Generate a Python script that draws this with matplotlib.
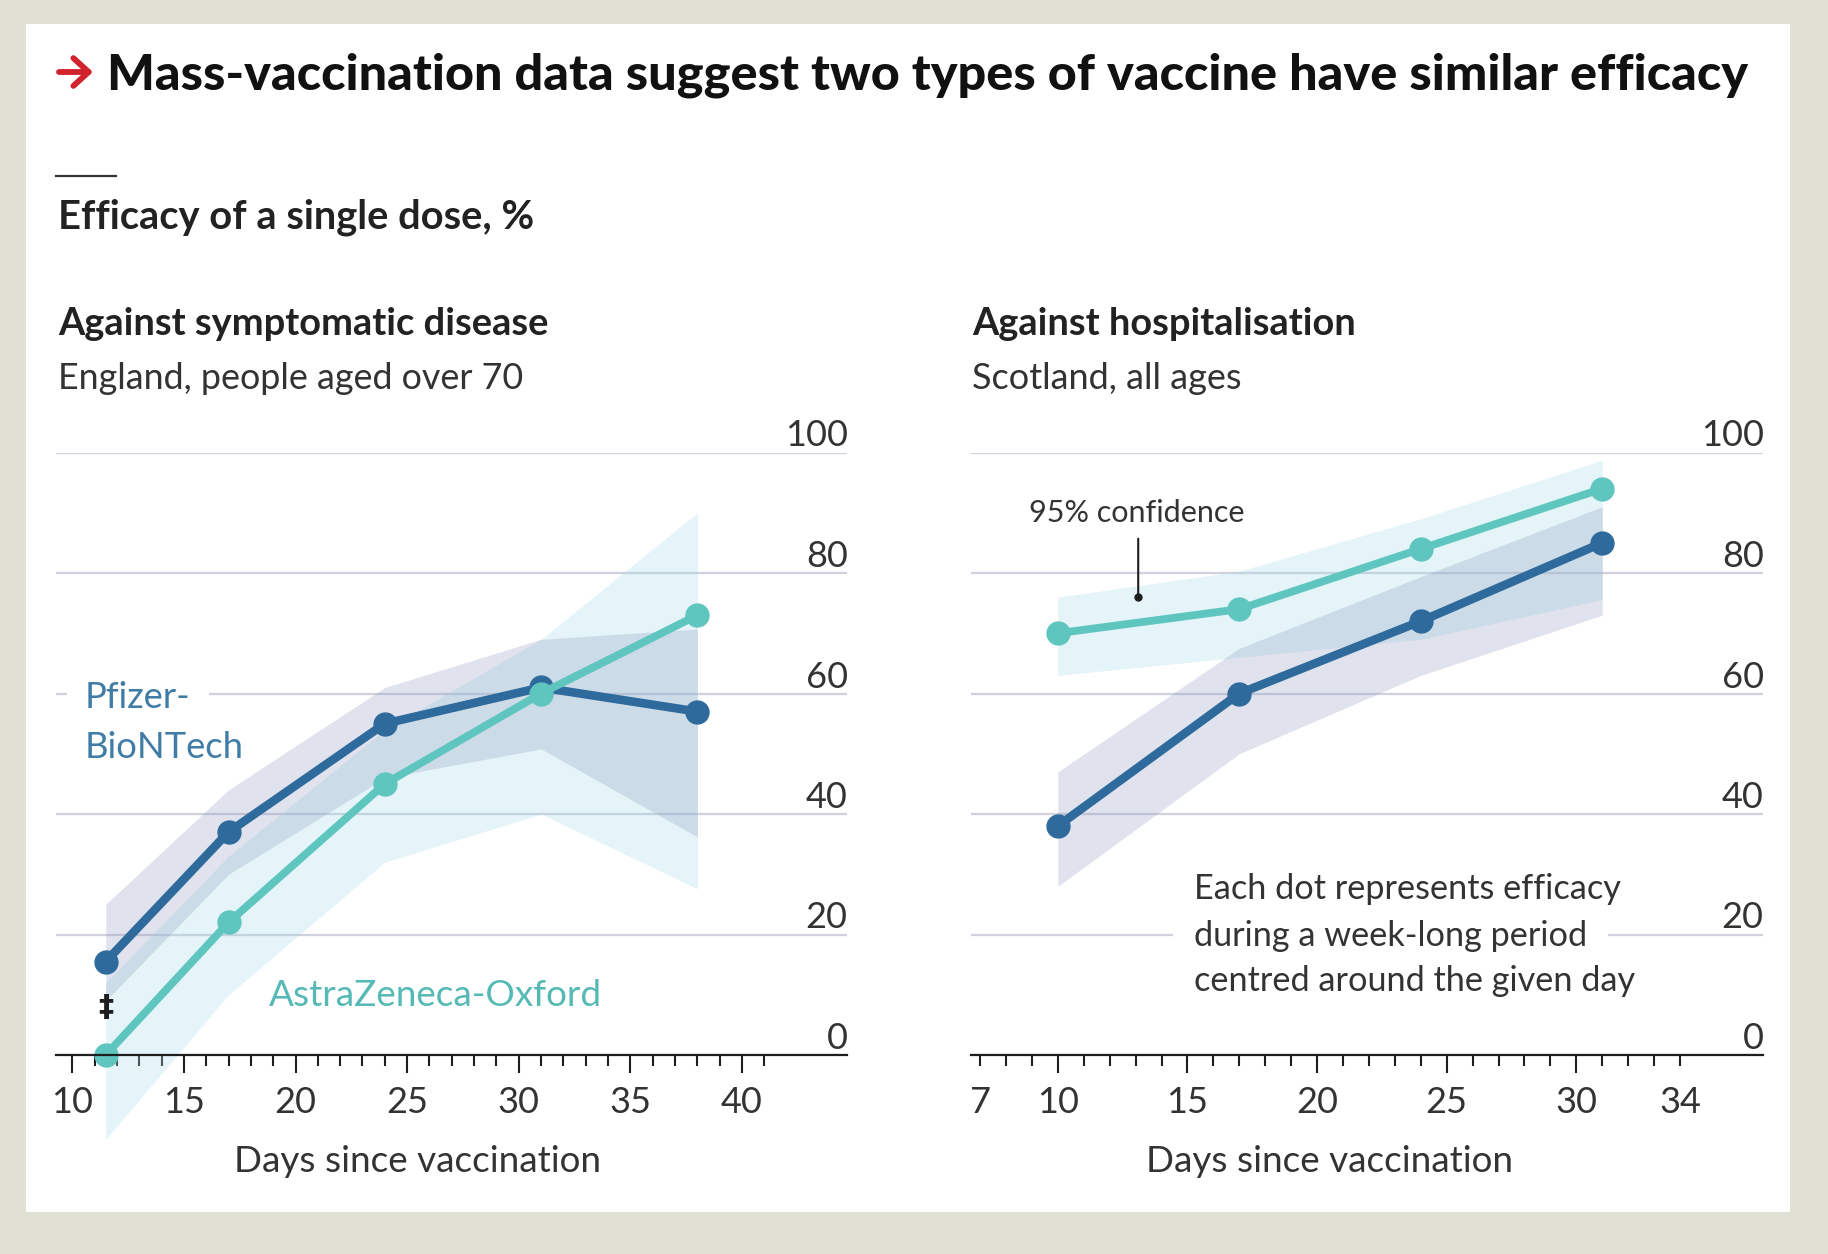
import matplotlib
matplotlib.use("Agg")
import matplotlib.pyplot as plt
from matplotlib.patches import FancyArrowPatch, Rectangle
from matplotlib.lines import Line2D

W, H = 1828, 1254
DPI = 100

BG = "#E0E0D4"
INK = "#1E1E1E"
TXT = "#333333"
GRID = "#CFD1DC"
PFIZER = "#2E6A9B"
AZ = "#5FC5BF"
PFIZER_LABEL = "#3F7CA6"
AZ_LABEL = "#55BAB5"
PFIZER_BAND = "#8E98C0"
AZ_BAND = "#A8DBE8"

plt.rcParams["font.family"] = ["Lato", "DejaVu Sans"]

# left panel: England, people aged over 70
days_l = [11.5, 17, 24, 31, 38]
pfizer_l = [15.5, 37, 55, 61, 57]
pfizer_l_hi = [25, 44, 61, 69, 70.7]
pfizer_l_lo = [9, 30, 46, 50.8, 36.2]
az_l = [0, 22, 45, 60, 73]
az_l_hi = [12, 33, 54, 69, 90]
az_l_lo = [-14, 10, 32, 40, 27.6]

# right panel: Scotland, all ages
days_r = [10, 17, 24, 31]
pfizer_r = [38, 60, 72, 85]
pfizer_r_hi = [47, 67.5, 79.4, 91]
pfizer_r_lo = [28, 50, 63, 73]
az_r = [70, 74, 84, 94]
az_r_hi = [76, 80.3, 89, 98.7]
az_r_lo = [63, 66, 69, 75.6]

y_ticks = [0, 20, 40, 60, 80, 100]
x_major_l = [10, 15, 20, 25, 30, 35, 40]
x_minor_l = list(range(10, 42))
x_major_r = [7, 10, 15, 20, 25, 30, 34]
x_minor_r = list(range(7, 35))


def put(fig, x, y, s, size, color=TXT, weight="normal", **kw):
    # x, y in image pixels, y is the baseline
    return fig.text(x / W, 1 - y / H, s, fontsize=size, color=color,
                    fontweight=weight, va="baseline", **kw)


def panel(fig, left, right, xlim, days, p, p_hi, p_lo, a, a_hi, a_lo, major, minor):
    top, bottom = 452.5, 1055
    ax = fig.add_axes([left / W, 1 - bottom / H, (right - left) / W, (bottom - top) / H])
    ax.patch.set_alpha(0)
    ax.set_xlim(*xlim)
    ax.set_ylim(0, 100)
    for s in ("top", "left", "right"):
        ax.spines[s].set_visible(False)
    ax.spines["bottom"].set_color(INK)
    ax.spines["bottom"].set_linewidth(1.6)
    ax.spines["bottom"].set_zorder(6)

    ax.set_yticks(y_ticks)
    ax.grid(axis="y", color=GRID, lw=1.6, zorder=1)
    ax.set_axisbelow(True)
    ax.tick_params(axis="y", left=False, right=False, labelleft=False, labelright=True,
                   pad=-3, labelsize=26, labelcolor=TXT)
    for t in ax.get_yticklabels():
        t.set_ha("right")
        t.set_va("bottom")

    ax.set_xticks(major)
    ax.set_xticks(minor, minor=True)
    ax.tick_params(axis="x", which="major", length=13, width=1.5, color=INK,
                   labelsize=26, labelcolor=TXT, pad=9)
    ax.tick_params(axis="x", which="minor", length=8, width=1.5, color=INK)

    ax.fill_between(days, a_lo, a_hi, color=AZ_BAND, alpha=0.3, lw=0, zorder=2, clip_on=False)
    ax.fill_between(days, p_lo, p_hi, color=PFIZER_BAND, alpha=0.27, lw=0, zorder=2.1, clip_on=False)
    ax.plot(days, p, color=PFIZER, lw=6.2, marker="o", ms=16.5, zorder=4, clip_on=False)
    ax.plot(days, a, color=AZ, lw=5.6, marker="o", ms=16.5, zorder=5, clip_on=False)
    return ax


fig = plt.figure(figsize=(W / DPI, H / DPI), dpi=DPI, facecolor=BG)
fig.add_artist(Rectangle((26 / W, 1 - 1212 / H), (1790 - 26) / W, (1212 - 24) / H,
                         transform=fig.transFigure, facecolor="white", edgecolor="none", zorder=-5))

ax_l = panel(fig, 55.7, 847, (9.26, 44.7), days_l, pfizer_l, pfizer_l_hi, pfizer_l_lo,
             az_l, az_l_hi, az_l_lo, x_major_l, x_minor_l)
ax_r = panel(fig, 971, 1763, (6.65, 37.2), days_r, pfizer_r, pfizer_r_hi, pfizer_r_lo,
             az_r, az_r_hi, az_r_lo, x_major_r, x_minor_r)

# 7 and 34 are labelled but carry a short tick
for i in (0, -1):
    ax_r.xaxis.get_major_ticks()[i].tick1line.set_markersize(8)

ax_r.annotate("", xy=(13.1, 76), xytext=(13.1, 85.7),
              arrowprops=dict(arrowstyle="-", color=INK, lw=1.5, shrinkA=0, shrinkB=0), zorder=6)
ax_r.plot([13.1], [76], "o", color=INK, ms=5, zorder=6)

# headings
fig.add_artist(FancyArrowPatch((59 / W, 1 - 72 / H), (93 / W, 1 - 72 / H),
                               transform=fig.transFigure, color="#D2232E", lw=4.2,
                               arrowstyle="->,head_length=11,head_width=10",
                               mutation_scale=1, shrinkA=0, shrinkB=0))
put(fig, 107, 90, "Mass-vaccination data suggest two types of vaccine have similar efficacy",
    36.3, color="#111111", weight="black")
fig.add_artist(Line2D([56 / W, 116 / W], [1 - 176 / H] * 2, color="#333333", lw=1.6))
put(fig, 58, 228, "Efficacy of a single dose, %", 28.7, color="#222222", weight="bold")
put(fig, 58, 335, "Against symptomatic disease", 27.4, color="#222222", weight="bold")
put(fig, 58, 389, "England, people aged over 70", 25.8)
put(fig, 972, 335, "Against hospitalisation", 27.4, color="#222222", weight="bold")
put(fig, 972, 389, "Scotland, all ages", 26)
put(fig, 418, 1172, "Days since vaccination", 26.6, ha="center")
put(fig, 1330, 1172, "Days since vaccination", 26.6, ha="center")

# series labels, white boxes cut the gridlines behind them
put(fig, 85, 708, "Pfizer-", 26.2, color=PFIZER_LABEL,
    bbox=dict(facecolor="white", edgecolor="none", pad=13))
put(fig, 85, 758, "BioNTech", 26.2, color=PFIZER_LABEL)
put(fig, 269, 1006, "AstraZeneca-Oxford", 26.6, color=AZ_LABEL)
put(fig, 106, 1016, "\u2021", 22, color=INK, weight="bold", ha="center", family="DejaVu Sans")
put(fig, 1029, 522, "95% confidence", 22)
put(fig, 1194, 946, "during a week-long period", 24.7,
    bbox=dict(facecolor="white", edgecolor="none", pad=15))
put(fig, 1194, 899, "Each dot represents efficacy", 24.7)
put(fig, 1194, 991, "centred around the given day", 24.7)

fig.savefig("out.png", dpi=DPI, facecolor=BG)
